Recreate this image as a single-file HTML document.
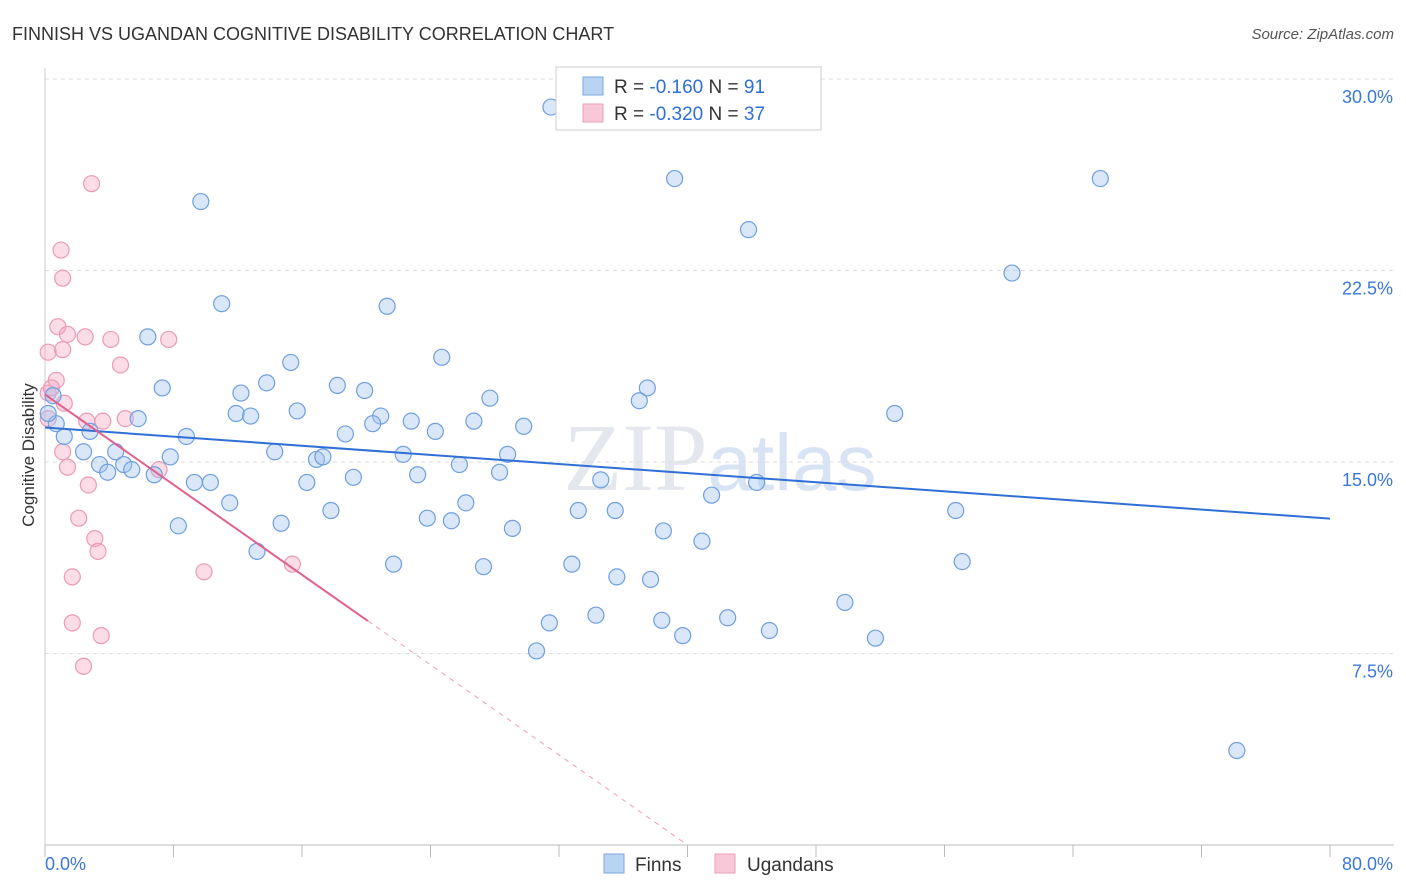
<!DOCTYPE html>
<html><head><meta charset="utf-8"><style>
body{margin:0;background:#fff;font-family:"Liberation Sans",sans-serif}
#wrap{position:relative;width:1406px;height:892px;overflow:hidden}
</style></head><body>
<div id="wrap">
<svg id="svg" width="1406" height="892" xmlns="http://www.w3.org/2000/svg">
<text x="12" y="40" font-size="18" fill="#333">FINNISH VS UGANDAN COGNITIVE DISABILITY CORRELATION CHART</text>
<text x="1394" y="39" font-size="15" fill="#555" font-style="italic" text-anchor="end">Source: ZipAtlas.com</text>
<text x="720" y="490" font-size="96" fill="#e4e8ee" text-anchor="middle" font-family="Liberation Serif,serif">ZIP<tspan font-family="Liberation Sans,sans-serif" font-size="80" fill="#d8e4f4">atlas</tspan></text>
<text x="34" y="455" font-size="17" fill="#333" text-anchor="middle" transform="rotate(-90 34 455)">Cognitive Disability</text>
<g id="grid"></g><g id="marks"></g>
<g>
<rect x="556" y="67" width="265" height="63" fill="#fff" stroke="#ccc"/>
<rect x="583" y="77" width="20" height="18" fill="#b9d3f3" stroke="#7aa7e2"/>
<rect x="583" y="104" width="20" height="18" fill="#f8c8d8" stroke="#eaa1bb"/>
<text x="614" y="93" font-size="19" fill="#333">R = <tspan fill="#2f6fd6"> -0.160</tspan>   N = <tspan fill="#2f6fd6"> 91</tspan></text>
<text x="614" y="120" font-size="19" fill="#333">R = <tspan fill="#2f6fd6">-0.320</tspan>   N = <tspan fill="#2f6fd6">37</tspan></text>
</g>
<g>
<rect x="604" y="854" width="20" height="19" fill="#b9d3f3" stroke="#7aa7e2"/>
<text x="635" y="871" font-size="19" fill="#333">Finns</text>
<rect x="715" y="854" width="20" height="19" fill="#f8c8d8" stroke="#eaa1bb"/>
<text x="747" y="871" font-size="19" fill="#333">Ugandans</text>
</g>
</svg>
</div>
<script>
const yTicks=[7.5,15,22.5,30];
const yTickLabels=["7.5%","15.0%","22.5%","30.0%"];
const xTickLabels=["0.0%","80.0%"];
const finnsX=[31.5,39.2,65.7,9.7,43.8,60.2,11.0,21.3,6.4,24.7,15.3,7.3,13.8,12.2,18.2,19.9,37.5,37.0,27.7,52.9,5.8,11.9,12.8,15.7,20.9,20.4,22.8,26.7,29.8,24.3,18.7,0.7,2.8,1.2,8.8,2.4,4.4,14.3,22.3,28.8,7.8,16.9,17.3,3.4,4.9,5.4,3.9,25.8,23.2,28.3,6.8,19.2,9.3,10.3,16.3,34.6,44.3,41.5,11.5,26.2,33.2,35.5,17.8,56.7,23.8,25.3,14.7,8.3,29.1,38.5,40.9,13.2,57.1,21.7,32.8,27.3,35.6,37.7,49.8,34.3,31.4,38.4,42.5,39.7,45.1,51.7,30.6,74.2,0.5,0.2];
const finnsY=[28.9,26.1,26.1,25.2,24.1,22.4,21.2,21.1,19.9,19.1,18.9,17.9,18.1,17.7,18.0,17.8,17.9,17.4,17.5,16.9,16.7,16.9,16.8,17.0,16.8,16.5,16.6,16.6,16.4,16.2,16.1,16.5,16.2,16.0,16.0,15.4,15.4,15.4,15.3,15.3,15.2,15.1,15.2,14.9,14.9,14.7,14.6,14.9,14.5,14.6,14.5,14.4,14.2,14.2,14.2,14.3,14.2,13.7,13.4,13.4,13.1,13.1,13.1,13.1,12.8,12.7,12.6,12.5,12.4,12.3,11.9,11.5,11.1,11.0,11.0,10.9,10.5,10.4,9.5,9.0,8.7,8.8,8.9,8.2,8.4,8.1,7.6,3.7,17.6,16.9];
const ugX=[2.9,1.0,1.1,0.8,2.5,1.4,4.1,7.7,0.2,1.1,4.7,0.7,0.2,0.4,1.2,2.6,3.6,5.0,0.2,1.1,1.4,7.1,2.7,2.1,3.1,3.3,15.4,9.9,1.7,1.7,3.5,2.4];
const ugY=[25.9,23.3,22.2,20.3,19.9,20.0,19.8,19.8,19.3,19.4,18.8,18.2,17.7,17.9,17.3,16.6,16.6,16.7,16.7,15.4,14.8,14.7,14.1,12.8,12.0,11.5,11.0,10.7,10.5,8.7,8.2,7.0];
const finnsTrend=[16.35,12.78];      // y at x=0, y at x=80
const ugTrend=[17.64,-0.441];        // intercept, slope
const ugSolidEnd=20.1, ugDashEnd=40;

const X0=45,X1=1330,Y0=845,YTOP=79;
const sx=v=>X0+v/80*(X1-X0);
const sy=v=>Y0-v/30*(Y0-YTOP);
const NS="http://www.w3.org/2000/svg";
const grid=document.getElementById('grid'),marks=document.getElementById('marks');
function mk(tag,attrs,parent){const e=document.createElementNS(NS,tag);for(const k in attrs)e.setAttribute(k,attrs[k]);parent.appendChild(e);return e;}
yTicks.forEach((t,i)=>{
 const l=mk('line',{x1:X0,x2:1394,y1:sy(t),y2:sy(t),stroke:'#ddd','stroke-dasharray':'4,4'},grid);
 
 
 const tx=mk('text',{x:1393,y:sy(t)+24,'font-size':18,fill:'#3a78d8','text-anchor':'end'},grid);
 tx.textContent=yTickLabels[i];
 
 
});
const ax=mk('line',{x1:X0,x2:1394,y1:Y0,y2:Y0,stroke:'#bbb'},grid);


const ay=mk('line',{x1:X0,x2:X0,y1:68,y2:Y0,stroke:'#ccc'},grid);


for(let i=0;i<=10;i++){
 const t=mk('line',{x1:sx(i*8),x2:sx(i*8),y1:Y0,y2:Y0+12,stroke:'#bbb'},grid);
 
 
}
[[0,X0,'start'],[80,1393,'end']].forEach((d,i)=>{
 const tx=mk('text',{x:d[1],y:870,'font-size':18,fill:'#3a78d8','text-anchor':d[2]},grid);
 tx.textContent=xTickLabels[i];
 
 
});
ugX.forEach((x,i)=>{
 const c=mk('circle',{cx:sx(x),cy:sy(ugY[i]),r:8,fill:'rgba(245,168,195,0.4)',stroke:'#eb9ab7','stroke-width':1.2},marks);
 
 
});
finnsX.forEach((x,i)=>{
 const c=mk('circle',{cx:sx(x),cy:sy(finnsY[i]),r:8,fill:'rgba(160,196,240,0.4)',stroke:'#6f9fe0','stroke-width':1.2},marks);
 
 
});
const bl=mk('line',{x1:sx(0),y1:sy(finnsTrend[0]),x2:sx(80),y2:sy(finnsTrend[1]),stroke:'#2f6fd6','stroke-width':2},marks);


const uy=x=>ugTrend[0]+ugTrend[1]*x;
const pl=mk('line',{x1:sx(0),y1:sy(uy(0)),x2:sx(ugSolidEnd),y2:sy(uy(ugSolidEnd)),stroke:'#e0608e','stroke-width':2},marks);


const pd=mk('line',{x1:sx(ugSolidEnd),y1:sy(uy(ugSolidEnd)),x2:sx(ugDashEnd),y2:sy(uy(ugDashEnd)),stroke:'#eba0bb','stroke-width':1,'stroke-dasharray':'5,5'},marks);


</script>
</body></html>
